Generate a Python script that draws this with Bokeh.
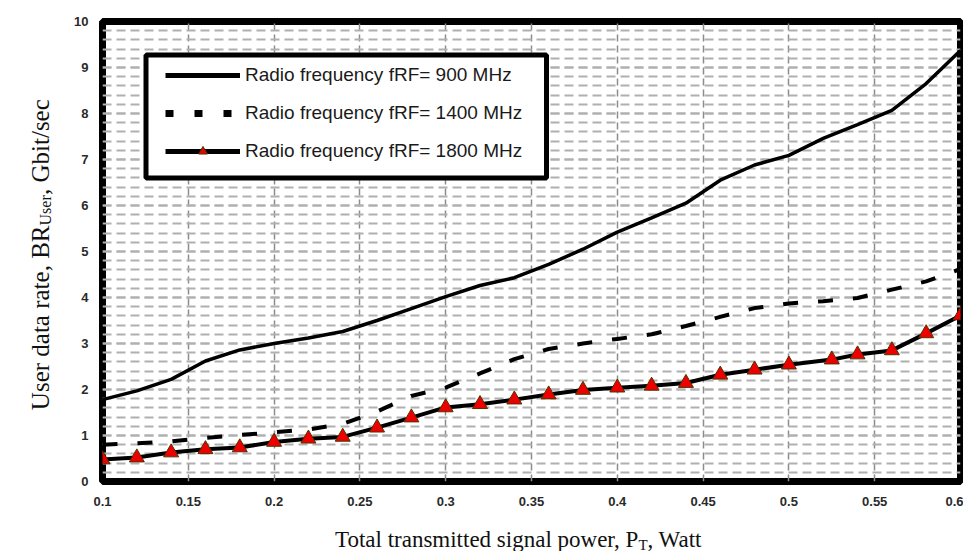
import math
from bokeh.plotting import figure
from bokeh.layouts import row, column
from bokeh.models import (Range1d, FixedTicker, Legend, LegendItem, BoxAnnotation)
from bokeh.core.properties import value
from bokeh.embed import file_html
from bokeh.resources import INLINE

# ---- data ----
x_pts = [0.10, 0.12, 0.14, 0.16, 0.18, 0.20, 0.22, 0.24, 0.26, 0.28, 0.30, 0.32, 0.34,
         0.36, 0.38, 0.40, 0.42, 0.44, 0.46, 0.48, 0.50, 0.52, 0.54, 0.56, 0.58, 0.60]
rate_900 = [1.78, 1.97, 2.22, 2.62, 2.86, 3.00, 3.12, 3.26, 3.50, 3.76, 4.02, 4.26, 4.43,
            4.72, 5.05, 5.42, 5.73, 6.05, 6.55, 6.88, 7.09, 7.46, 7.76, 8.07, 8.65, 9.37]
rate_1400 = [0.80, 0.83, 0.87, 0.95, 1.01, 1.07, 1.13, 1.25, 1.52, 1.86, 2.04, 2.35, 2.66,
             2.88, 3.00, 3.10, 3.20, 3.38, 3.58, 3.77, 3.87, 3.92, 3.99, 4.17, 4.35, 4.62]
x_1800 = [0.10, 0.12, 0.14, 0.16, 0.18, 0.20, 0.22, 0.24, 0.26, 0.28, 0.30, 0.32, 0.34,
          0.36, 0.38, 0.40, 0.42, 0.44, 0.46, 0.48, 0.50, 0.525, 0.54, 0.56, 0.58, 0.60]
rate_1800 = [0.48, 0.52, 0.63, 0.70, 0.74, 0.86, 0.93, 0.97, 1.17, 1.39, 1.61, 1.68, 1.78,
             1.89, 1.99, 2.04, 2.08, 2.14, 2.32, 2.43, 2.54, 2.65, 2.76, 2.85, 3.22, 3.61]

series_labels = ["Radio frequency fRF= 900 MHz",
                 "Radio frequency fRF= 1400 MHz",
                 "Radio frequency fRF= 1800 MHz"]

x_ticks = [0.1, 0.15, 0.2, 0.25, 0.3, 0.35, 0.4, 0.45, 0.5, 0.55, 0.6]
x_tick_labels = ["0.1", "0.15", "0.2", "0.25", "0.3", "0.35", "0.4", "0.45", "0.5", "0.55", "0.6"]
y_ticks = [0, 1, 2, 3, 4, 5, 6, 7, 8, 9, 10]
y_minor_ticks = [round(0.2 * i, 1) for i in range(51)]

x_title = ["Total transmitted signal power, P", "T", ", Watt"]
y_title = ["User data rate, BR", "User", ", Gbit/sec"]

NAN = float("nan")
serif = "Liberation Serif"

# ---- main figure ----
p = figure(width=895, height=513, x_range=Range1d(0.1, 0.6), y_range=Range1d(0, 10),
           output_backend="svg", toolbar_location=None,
           min_border_left=34, min_border_right=3, min_border_top=21, min_border_bottom=32)
p.background_fill_color = "white"
p.border_fill_color = "white"
p.outline_line_color = "black"
p.outline_line_width = 7

p.xaxis.ticker = FixedTicker(ticks=x_ticks)
p.xaxis.major_label_overrides = {t: l for t, l in zip(x_ticks, x_tick_labels)}
p.yaxis.ticker = FixedTicker(ticks=y_ticks, minor_ticks=y_minor_ticks)

for ax in (p.xaxis, p.yaxis):
    ax.axis_line_color = None
    ax.major_tick_line_color = None
    ax.minor_tick_line_color = None
    ax.major_label_text_font = "Liberation Sans"
    ax.major_label_text_font_size = "13px"
    ax.major_label_text_font_style = "bold"
    ax.major_label_text_color = "#2a2a2a"
p.xaxis.major_label_standoff = 9
p.yaxis.major_label_standoff = 8

p.ygrid.grid_line_color = "#b0b0b0"
p.ygrid.grid_line_width = 2
p.ygrid.grid_line_dash = "9 5"
p.ygrid.minor_grid_line_color = "#b0b0b0"
p.ygrid.minor_grid_line_width = 2
p.ygrid.minor_grid_line_dash = "9 5"
p.xgrid.grid_line_color = "#8c8c8c"
p.xgrid.grid_line_width = 1.5
p.xgrid.grid_line_dash = "7 4"

# ---- series ----
p.line(x_pts, rate_900, line_color="black", line_width=3.5)
p.line(x_pts, rate_1400, line_color="black", line_width=4, line_dash="15 20")
p.line(x_1800, rate_1800, line_color="black", line_width=4)
p.scatter(x_1800, rate_1800, marker="triangle", size=15, fill_color="#ee0000",
          line_color="#4d3300", line_width=1)

# legend proxies (single NaN point, never visible in the plot)
lg1 = p.line([NAN], [NAN], line_color="black", line_width=5)
lg2 = p.line([NAN], [NAN], line_color="black", line_width=7, line_dash="8 21")
lg3a = p.line([NAN], [NAN], line_color="black", line_width=5)
lg3b = p.scatter([NAN], [NAN], marker="triangle", size=11, fill_color="#ee0000",
                 line_color="#4d3300", line_width=1)

box = BoxAnnotation(left=43.5, right=444, top=426.5, bottom=303.5,
                    left_units="screen", right_units="screen",
                    top_units="screen", bottom_units="screen",
                    fill_color="white", fill_alpha=1.0,
                    line_color="black", line_alpha=1.0, line_width=5)
p.add_layout(box)

legend = Legend(items=[LegendItem(label=series_labels[0], renderers=[lg1]),
                       LegendItem(label=series_labels[1], renderers=[lg2]),
                       LegendItem(label=series_labels[2], renderers=[lg3a, lg3b])],
                location=(63, 319), padding=0, margin=0, spacing=16,
                glyph_width=75, glyph_height=22, label_height=22, label_standoff=5,
                border_line_color=None, background_fill_alpha=0,
                label_text_font="Liberation Sans", label_text_font_size="19px",
                label_text_color="#1a1a1a")
p.add_layout(legend)


def text_panel(w, h):
    f = figure(width=w, height=h, x_range=Range1d(0, w), y_range=Range1d(0, h),
               output_backend="svg", toolbar_location=None,
               min_border=0, min_border_left=0, min_border_right=0,
               min_border_top=0, min_border_bottom=0)
    f.axis.visible = False
    f.grid.visible = False
    f.outline_line_color = None
    f.background_fill_color = "white"
    f.border_fill_color = "white"
    return f


# ---- x axis title (panel below main figure) ----
fx = text_panel(895, 38)
xa = 559
fx.text(x=[xa], y=[12], text=[x_title[0]], text_align="right", text_baseline="alphabetic",
        text_font=value(serif), text_font_size=value("23px"), text_color="#111111")
fx.text(x=[xa], y=[7], text=[x_title[1]], text_align="left", text_baseline="alphabetic",
        text_font=value(serif), text_font_size=value("15px"), text_color="#111111")
fx.text(x=[xa + 9.5], y=[12], text=[x_title[2]], text_align="left", text_baseline="alphabetic",
        text_font=value(serif), text_font_size=value("23px"), text_color="#111111")

# ---- y axis title (panel left of main figure) ----
fy = text_panel(68, 551)
ya = 326
fy.text(x=[40], y=[ya], text=[y_title[0]], angle=math.pi / 2, text_align="right",
        text_baseline="alphabetic", text_font=value(serif), text_font_size=value("25px"),
        text_color="#111111")
fy.text(x=[45], y=[ya], text=[y_title[1]], angle=math.pi / 2, text_align="left",
        text_baseline="alphabetic", text_font=value(serif), text_font_size=value("16px"),
        text_color="#111111")
fy.text(x=[40], y=[ya + 30.5], text=[y_title[2]], angle=math.pi / 2, text_align="left",
        text_baseline="alphabetic", text_font=value(serif), text_font_size=value("25px"),
        text_color="#111111")

layout = row(fy, column(p, fx, spacing=0), spacing=0)

open("out.html", "w").write(file_html(layout, INLINE))
